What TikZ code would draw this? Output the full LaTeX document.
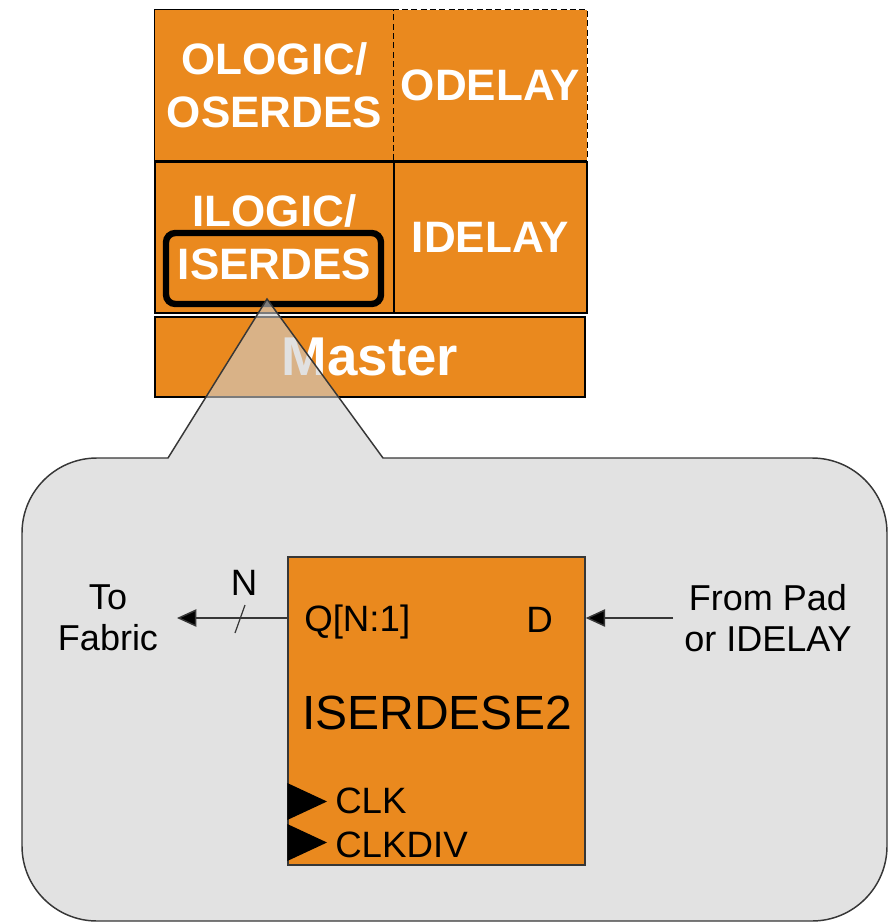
\documentclass[tikz,border=0pt]{standalone}
\usepackage{fontspec}
\setmainfont{Liberation Sans}
\usetikzlibrary{arrows.meta}
\definecolor{blockorange}{RGB}{234,137,30}
\definecolor{calloutgrey}{RGB}{206,206,206}
\definecolor{edgegrey}{RGB}{55,55,55}
\begin{document}
\begin{tikzpicture}[x=0.75pt,y=-0.75pt,
  tile/.style={fill=blockorange, text=white, align=center, inner sep=0pt,
    font=\fontsize{33}{40}\selectfont\bfseries},
  tileedge/.style={draw=black, line width=1.1pt},
  dashededge/.style={draw=black, line width=1.1pt, dash pattern=on 4.5pt off 2.5pt},
  highlight/.style={draw=black, line width=4.8pt, rounded corners=7pt, inner sep=0pt},
  callout/.style={draw=edgegrey, line width=1.1pt, fill=calloutgrey, fill opacity=0.6, draw opacity=1},
  prim/.style={draw=edgegrey, line width=1.1pt, fill=blockorange, inner sep=0pt},
  pin/.style={font=\fontsize{27.5}{32}\selectfont, text=black, inner sep=0pt},
  note/.style={font=\fontsize{27}{31}\selectfont, text=black, align=center, inner sep=0pt},
  sigarrow/.style={draw=edgegrey, line width=1.1pt, -{Triangle[length=14.5pt,width=13pt,fill=black]}},
  clocktip/.style={fill=black}
]
\useasboundingbox (0,0) rectangle (894,923);

% ---- I/O tile ----
\node[tile, minimum width=179.25pt, minimum height=112.5pt] (ologic) at (274.5,85) {OLOGIC/\\OSERDES};
\draw[tileedge] (ologic.north east) -- (ologic.north west) -- (ologic.south west) -- (ologic.south east);
\node[tile, minimum width=144.75pt, minimum height=112.5pt] (odelay) at (490.5,85) {ODELAY};
\draw[dashededge] (odelay.south west) -- (odelay.north west) -- (odelay.north east) -- (odelay.south east);
\draw[tileedge] (odelay.south west) -- (odelay.south east);

\node[tile, tileedge, minimum width=179.25pt, minimum height=113.25pt] (ilogic) at (274.5,237.5) {ILOGIC/\\ISERDES};
\node[tile, tileedge, minimum width=144.75pt, minimum height=113.25pt] (idelay) at (490.5,237.5) {IDELAY};
\node[highlight, minimum width=161.25pt, minimum height=53.25pt] (isel) at (273.5,268.5) {};

\node[tile, tileedge, minimum width=322.5pt, minimum height=60pt,
      font=\fontsize{41}{46}\selectfont\bfseries] (master) at (370,357) {Master};

% ---- zoom callout ----
\draw[callout]
  (168,458) -- (267,299) -- (383,458) -- (812,458)
  .. controls (853.4,458) and (887,491.6) .. (887,533)
  -- (887,846)
  .. controls (887,887.4) and (853.4,921) .. (812,921)
  -- (97,921)
  .. controls (55.6,921) and (22,887.4) .. (22,846)
  -- (22,533)
  .. controls (22,491.6) and (55.6,458) .. (97,458)
  -- cycle;

% ---- ISERDESE2 primitive ----
\node[prim, minimum width=222.75pt, minimum height=231pt] (blk) at (436.5,711) {};
\node[font=\fontsize{36}{40}\selectfont, anchor=base, inner sep=0pt] (blkname) at (437,729) {ISERDESE2};
\node[pin, anchor=base west] (qport) at (304,631) {Q[N:1]};
\node[pin, anchor=base west] (dport) at (526,632) {D};
\node[pin, anchor=base west] (clkport) at (335,813) {CLK};
\node[pin, anchor=base west] (clkdivport) at (335,857) {CLKDIV};

\fill[clocktip] (blk.west |- 0,783) -- (327,801.5) -- (blk.west |- 0,820) -- cycle;
\fill[clocktip] (blk.west |- 0,824) -- (327,842.5) -- (blk.west |- 0,861) -- cycle;

% ---- signals ----
\coordinate (fabricin) at (177,618);
\coordinate (padout) at (673,618);
\draw[sigarrow] (blk.west |- fabricin) -- (fabricin);
\draw[sigarrow] (padout) -- (blk.east |- padout);
\draw[draw=edgegrey, line width=0.9pt] (235,633) -- (245,605);
\node[pin, anchor=base] (buswidth) at (244,595) {N};

\node[note] (fabric) at (108,618) {To\\Fabric};
\node[note] (pad) at (768,618) {From Pad\\or IDELAY};
\end{tikzpicture}
\end{document}
